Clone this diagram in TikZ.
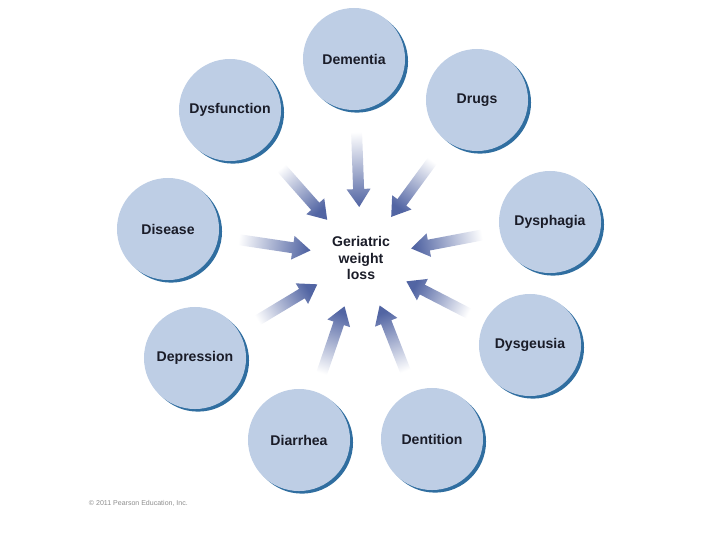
\documentclass[tikz,border=0pt]{standalone}
\usepackage{fontspec}
\setmainfont{Liberation Sans}
\usepackage{tikz}
\usetikzlibrary{calc,shadows}

\definecolor{circblue}{RGB}{190,206,229}
\definecolor{rimblue}{RGB}{48,110,160}
\definecolor{arrowblue}{RGB}{82,101,163}
\definecolor{inkblue}{RGB}{26,28,40}

\begin{document}
\begin{tikzpicture}[x=0.025cm,y=-0.025cm,
  cause/.style={circle,fill=circblue,minimum size=2.55cm,inner sep=0pt,text=inkblue,
                font=\fontsize{10}{12}\selectfont\bfseries,
                drop shadow={shadow xshift=0.075cm,shadow yshift=-0.065cm,fill=rimblue,opacity=1}},
  hub/.style={align=center,text=inkblue,font=\fontsize{10}{11.7}\selectfont\bfseries},
  note/.style={font=\fontsize{5}{6}\selectfont,text=black!45,anchor=west}
]
  \useasboundingbox (0,0) rectangle (720,540);

  \node[hub] (loss) at (361,258) {Geriatric\\weight\\loss};
  \node[cause] (dementia) at (354,59) {Dementia};
  \node[cause] (drugs) at (477,100) {Drugs};
  \node[cause] (dysphagia) at (550,222) {Dysphagia};
  \node[cause] (dysgeusia) at (530,345) {Dysgeusia};
  \node[cause] (dentition) at (432,439) {Dentition};
  \node[cause] (diarrhea) at (299,440) {Diarrhea};
  \node[cause] (depression) at (195,358) {Depression};
  \node[cause] (disease) at (168,229) {Disease};
  \node[cause] (dysfunction) at (230,110) {Dysfunction};
  \node[note] (credit) at (84,503) {\textcopyright{} 2011 Pearson Education, Inc.};

  % fading arrows from each cause into the hub
  \foreach \cause in {dementia,drugs,dysphagia,dysgeusia,dentition,diarrhea,depression,disease,dysfunction}{
    \pgfmathanglebetweenpoints{\pgfpointanchor{loss}{center}}{\pgfpointanchor{\cause}{center}}
    \let\ang\pgfmathresult
    \begin{scope}[shift={($(loss)!1.275cm!(\cause)$)},rotate=\ang+180]
      \shade[top color=arrowblue,middle color=arrowblue!88,bottom color=white,shading angle=\ang+90]
        (0,0) -- (-18,12) -- (-18,5.5) -- (-76,5.5) -- (-76,-5.5) -- (-18,-5.5) -- (-18,-12) -- cycle;
    \end{scope}
  }
\end{tikzpicture}
\end{document}
